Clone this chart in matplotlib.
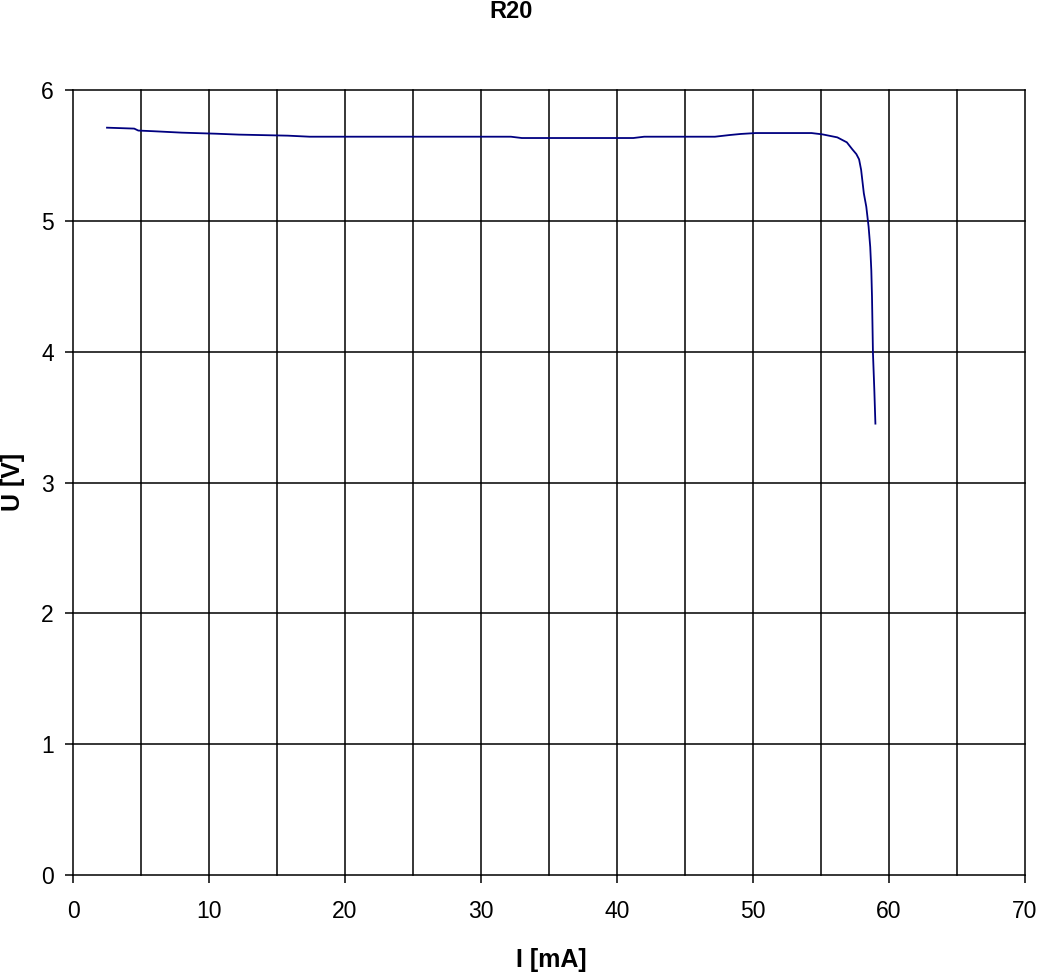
import matplotlib
matplotlib.use("Agg")
import matplotlib.pyplot as plt

current_mA = [2.5, 4.5, 4.8, 5.9, 8.0, 10.5, 12.2, 15.8, 17.4, 32.2, 33.0, 41.2, 42.0,
              47.2, 48.3, 49.1, 50.2, 54.3, 55.1, 56.2, 56.9, 57.3, 57.6, 57.8, 57.95, 58.05,
              58.15, 58.33, 58.5, 58.62, 58.7, 58.75, 58.82, 58.92, 59.0]
voltage_V = [5.712, 5.705, 5.69, 5.685, 5.674, 5.666, 5.659, 5.651, 5.643, 5.643, 5.633, 5.633, 5.643,
             5.643, 5.656, 5.664, 5.671, 5.671, 5.661, 5.638, 5.600, 5.547, 5.51, 5.47, 5.39, 5.30,
             5.21, 5.108, 4.955, 4.80, 4.62, 4.42, 3.99, 3.71, 3.45]
x_ticks = [0, 10, 20, 30, 40, 50, 60, 70]
y_ticks = [0, 1, 2, 3, 4, 5, 6]
x_grid = [5, 10, 15, 20, 25, 30, 35, 40, 45, 50, 55, 60, 65, 70]

plt.rcParams['font.family'] = ['Liberation Sans', 'DejaVu Sans']
W, H = 1041, 977
fig = plt.figure(figsize=(W/100, H/100), dpi=100)
ax = fig.add_axes([73/W, 1-875/H, (1025-73)/W, (875-90)/H])

ax.plot(current_mA, voltage_V, color='#000080', lw=1.3, zorder=3)
ax.set_xlim(0, 70)
ax.set_ylim(0, 6)
ax.set_xticks(x_ticks)
ax.set_yticks(y_ticks)
for xv in x_grid:
    ax.axvline(xv, color='black', lw=1.1, zorder=1, clip_on=False)
for yv in y_ticks[1:]:
    ax.axhline(yv, color='black', lw=1.1, zorder=1, clip_on=False)
for s in ['top', 'right']:
    ax.spines[s].set_visible(False)
for s in ['left', 'bottom']:
    ax.spines[s].set_linewidth(1.1)
ax.tick_params(direction='out', length=5.8, width=1.1, labelsize=16.5)
ax.tick_params(axis='x', pad=12)
ax.tick_params(axis='y', pad=8)
fig.text(551/W, 1-960/H, 'I [mA]', ha='center', va='center', fontsize=18, fontweight='bold')
fig.text(13/W, 1-482/H, 'U [V]', ha='center', va='center', rotation=90, fontsize=18, fontweight='bold')
fig.text(511/W, 1-11/H, 'R20', ha='center', va='center', fontsize=17, fontweight='bold')
fig.savefig('out.png', dpi=100)
